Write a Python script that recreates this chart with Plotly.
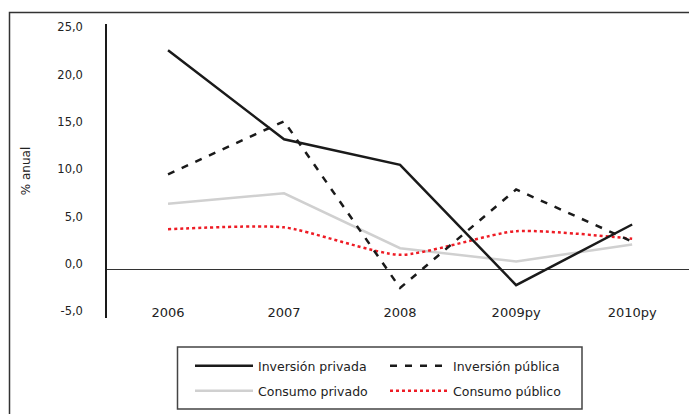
import plotly.graph_objects as go

categories = ["2006", "2007", "2008", "2009py", "2010py"]
inversion_privada = [23.1, 13.7, 11.0, -1.7, 4.7]
inversion_publica = [10.0, 15.6, -2.0, 8.4, 2.9]
consumo_privado = [6.9, 8.0, 2.2, 0.8, 2.6]
consumo_publico = [4.2, 4.4, 1.5, 4.0, 3.2]
ytick_vals = [-5, 0, 5, 10, 15, 20, 25]
ytick_text = ["-5,0", "0,0", "5,0", "10,0", "15,0", "20,0", "25,0"]

FONT = "DejaVu Sans"
W, H = 689, 414
L, R, T, B = 107, 0, 24, 96
PW, PH = W - L - R, H - T - B

def px(xp):
    return (xp - L) / PW

def py(yp):
    return (H - B - yp) / PH

fig = go.Figure()
fig.add_trace(go.Scatter(x=categories, y=consumo_privado, name="Consumo privado", mode="lines",
                         line=dict(color="#d0d0d0", width=2.5), legend="legend2", legendrank=1))
fig.add_trace(go.Scatter(x=categories, y=consumo_publico, name="Consumo público", mode="lines",
                         line=dict(color="#ee1c25", width=2.5, dash="3px,3px", shape="spline", smoothing=0.6),
                         legend="legend2", legendrank=2))
fig.add_trace(go.Scatter(x=categories, y=inversion_publica, name="Inversión pública", mode="lines",
                         line=dict(color="#1a1a1a", width=2.5, dash="7px,8px"), legend="legend", legendrank=2))
fig.add_trace(go.Scatter(x=categories, y=inversion_privada, name="Inversión privada", mode="lines",
                         line=dict(color="#1a1a1a", width=2.5), legend="legend", legendrank=1))

legend_common = dict(orientation="h", xanchor="left", yanchor="middle",
                     font=dict(family=FONT, size=12.5, color="#222"),
                     bgcolor="rgba(0,0,0,0)", borderwidth=0, itemwidth=58,
                     entrywidth=122, entrywidthmode="pixels", traceorder="normal")

fig.update_layout(
    width=W, height=H,
    margin=dict(l=L, r=R, t=T, b=B, autoexpand=False),
    paper_bgcolor="white", plot_bgcolor="white",
    font=dict(family=FONT, size=11, color="#222"),
    xaxis=dict(type="category", range=[-0.526, 4.49], showgrid=False, showline=False,
               zeroline=False, ticks="", anchor="free", position=0.05,
               tickfont=dict(size=13, family=FONT, color="#222")),
    yaxis=dict(range=[-5.17, 25.87], tickvals=ytick_vals, ticktext=ytick_text,
               showgrid=False, showline=True, linecolor="#1a1a1a", linewidth=1.5,
               zeroline=True, zerolinecolor="#333", zerolinewidth=1,
               ticks="", ticklabelshift=-5, ticklabelstandoff=20,
               tickfont=dict(size=11.5, family=FONT, color="#222"),
               title=dict(text="% anual", standoff=24, font=dict(size=12, family=FONT, color="#222"))),
    legend=dict(x=px(190), y=py(366), **legend_common),
    legend2=dict(x=px(190), y=py(391), **legend_common),
    showlegend=True,
    shapes=[
        dict(type="rect", xref="paper", yref="paper", x0=px(9.5), x1=px(720), y0=py(440), y1=py(12.5),
             line=dict(color="#333", width=1.5), fillcolor="rgba(0,0,0,0)", layer="above"),
        dict(type="rect", xref="paper", yref="paper", x0=px(177.5), x1=px(582), y0=py(409), y1=py(347),
             line=dict(color="#444", width=1.5), fillcolor="rgba(0,0,0,0)", layer="above"),
    ],
)

fig.write_html("out.html")
